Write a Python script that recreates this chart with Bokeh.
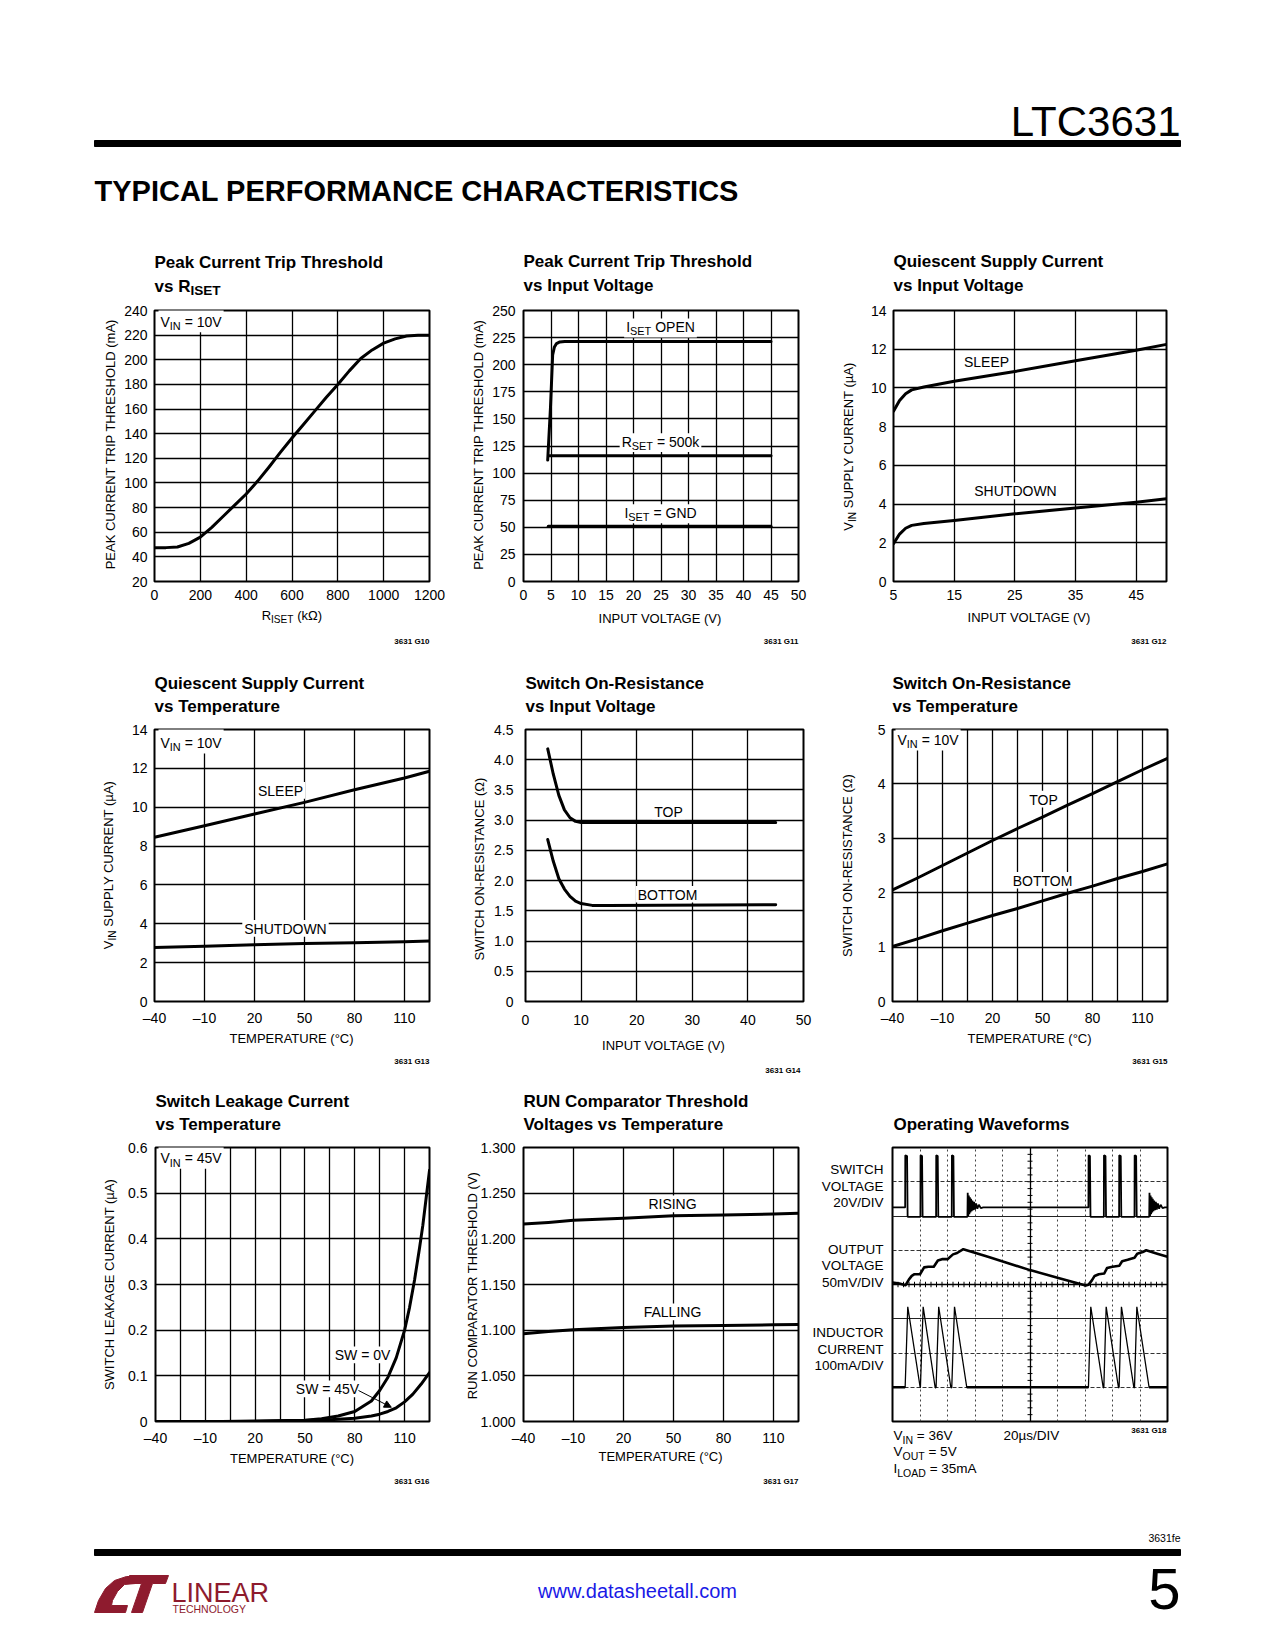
import numpy as np
from math import pi
from bokeh.plotting import figure
from bokeh.models import Range1d, Label, FixedTicker, Arrow, NormalHead, Grid, NumeralTickFormatter
from bokeh.layouts import column, row
from bokeh.embed import file_html
from bokeh.resources import INLINE

FONT = "Liberation Sans"
INK = "black"

# ======================= DATA =======================
# G10: Peak current trip threshold vs RISET (VIN = 10V)
g10_riset = [0, 50, 100, 150, 200, 250, 300, 350, 400, 450, 500, 550, 600, 650, 700,
             750, 800, 850, 900, 950, 1000, 1050, 1100, 1150, 1200]
g10_ipeak = [47.5, 47.5, 48, 51, 56, 64, 73, 82, 91, 101.5, 113, 125, 136.5, 147.5, 158.5,
             169.5, 180, 191, 201, 208, 213.5, 217, 219.3, 220, 220]
g10_xticks = [0, 200, 400, 600, 800, 1000, 1200]
g10_yticks = [20, 40, 60, 80, 100, 120, 140, 160, 180, 200, 220, 240]

# G11: Peak current trip threshold vs input voltage
g11_vin_open = [4.4, 4.9, 5.3, 5.6, 6.0, 6.6, 7.5, 45]
g11_ipk_open = [112, 160, 209, 216, 219.5, 221, 221.5, 221.5]
g11_vin_500k = [4.7, 45]
g11_ipk_500k = [116, 116]
g11_vin_gnd = [4.5, 45]
g11_ipk_gnd = [51, 51]
g11_xticks = [0, 5, 10, 15, 20, 25, 30, 35, 40, 45, 50]
g11_yticks = [0, 25, 50, 75, 100, 125, 150, 175, 200, 225, 250]

# G12: Quiescent supply current vs input voltage
g12_vin = [5, 6, 7, 8, 10, 15, 25, 35, 45, 50]
g12_sleep = [8.8, 9.35, 9.7, 9.9, 10.05, 10.35, 10.85, 11.4, 11.95, 12.25]
g12_shdn = [1.95, 2.45, 2.75, 2.9, 3.0, 3.15, 3.5, 3.8, 4.1, 4.28]
g12_xticks = [5, 15, 25, 35, 45]
g12_yticks = [0, 2, 4, 6, 8, 10, 12, 14]

# G13: Quiescent supply current vs temperature (VIN = 10V)
g13_temp = [-40, -10, 20, 50, 80, 110, 125]
g13_sleep = [8.45, 9.05, 9.65, 10.25, 10.9, 11.5, 11.85]
g13_shdn = [2.78, 2.85, 2.92, 2.98, 3.03, 3.08, 3.12]
g13_xticks = [-40, -10, 20, 50, 80, 110]
g13_yticks = [0, 2, 4, 6, 8, 10, 12, 14]

# G14: Switch on-resistance vs input voltage
g14_vin_top = [4, 5, 6, 7, 8, 9, 10, 45]
g14_r_top = [4.18, 3.76, 3.41, 3.17, 3.04, 2.98, 2.96, 2.96]
g14_vin_bot = [4, 5, 6, 7, 8, 9, 10, 12, 15, 45]
g14_r_bot = [2.68, 2.32, 2.03, 1.86, 1.74, 1.66, 1.62, 1.59, 1.59, 1.6]
g14_xticks = [0, 10, 20, 30, 40, 50]
g14_yticks = [0, 0.5, 1.0, 1.5, 2.0, 2.5, 3.0, 3.5, 4.0, 4.5]

# G15: Switch on-resistance vs temperature (VIN = 10V)
g15_temp = [-40, -25, -10, 5, 20, 35, 50, 65, 80, 95, 110, 125]
g15_r_top = [2.05, 2.27, 2.5, 2.73, 2.96, 3.18, 3.39, 3.61, 3.82, 4.04, 4.26, 4.47]
g15_r_bot = [1.01, 1.15, 1.3, 1.44, 1.58, 1.71, 1.85, 1.99, 2.12, 2.26, 2.39, 2.53]
g15_xticks = [-40, -10, 20, 50, 80, 110]
g15_xgrid = [-40, -25, -10, 5, 20, 35, 50, 65, 80, 95, 110, 125]
g15_yticks = [0, 1, 2, 3, 4, 5]

# G16: Switch leakage current vs temperature (VIN = 45V)
g16_temp_0v = [-40, 0, 20, 40, 50, 60, 70, 80, 90, 95, 100, 105, 110, 113, 116, 119, 121, 123, 125]
g16_lk_0v = [0, 0, 0.001, 0.002, 0.003, 0.006, 0.012, 0.022, 0.045, 0.068, 0.097, 0.14,
             0.2, 0.25, 0.31, 0.38, 0.43, 0.49, 0.55]
g16_temp_45v = [-40, 20, 50, 65, 80, 90, 95, 100, 105, 110, 115, 120, 125]
g16_lk_45v = [0, 0, 0.002, 0.004, 0.007, 0.012, 0.016, 0.022, 0.03, 0.043, 0.06, 0.082, 0.107]
g16_xticks = [-40, -10, 20, 50, 80, 110]
g16_xgrid = [-40, -25, -10, 5, 20, 35, 50, 65, 80, 95, 110, 125]
g16_yticks = [0, 0.1, 0.2, 0.3, 0.4, 0.5, 0.6]

# G17: RUN comparator threshold voltages vs temperature
g17_temp = [-40, -25, -10, 20, 50, 80, 110, 125]
g17_rising = [1.2163, 1.218, 1.2203, 1.2225, 1.2254, 1.2261, 1.2272, 1.2279]
g17_falling = [1.0961, 1.0985, 1.1005, 1.103, 1.1045, 1.1052, 1.1059, 1.1063]
g17_xticks = [-40, -10, 20, 50, 80, 110]
g17_yticks = [1.0, 1.05, 1.1, 1.15, 1.2, 1.25, 1.3]

# G18: Operating waveforms (time in us; switch in V; output ripple in mV; inductor in mA)
g18_switch = [(0, 5), (9.2, 5), (9.3, 35.5), (10.6, 35), (11.0, -0.5), (20.3, -0.5), (20.4, 35.5),
              (21.5, 35), (21.9, -0.5), (31.7, -0.5), (31.8, 35.5), (32.9, 35), (33.3, -0.5),
              (43.1, -0.5), (43.2, 35.5), (44.3, 35), (44.7, -0.5), (54.5, -0.5),
              (54.7, 13.5), (55.1, 0), (55.5, 12), (55.9, 1), (56.3, 11), (56.7, 2), (57.1, 10),
              (57.6, 2.8), (58.1, 9), (58.7, 3.4), (59.3, 8.2), (60.0, 3.8), (60.8, 7.4),
              (61.7, 4.2), (62.8, 6.6), (64.2, 4.6), (66.0, 5), (142.5, 5), (142.6, 35.5),
              (143.6, 35), (144.0, -0.5), (153.7, -0.5), (153.8, 35.5), (154.9, 35), (155.3, -0.5),
              (164.8, -0.5), (164.9, 35.5), (166.0, 35), (166.4, -0.5), (176.0, -0.5), (176.1, 35.5),
              (177.2, 35), (177.6, -0.5), (186.7, -0.5), (186.9, 13.5), (187.3, 0), (187.7, 12),
              (188.1, 1), (188.5, 11), (188.9, 2), (189.3, 10), (189.8, 2.8), (190.3, 9),
              (190.9, 3.4), (191.5, 8.2), (192.2, 3.8), (193.0, 7.4), (193.9, 4.2), (195.0, 6.6),
              (196.4, 4.6), (198.0, 5), (200, 5)]
g18_output = [(0, -22), (5, -23.5), (9.5, -26), (12, -17.5), (14, -12.5), (16, -10), (20, -10),
              (23, 0), (26, 1), (30, 1), (33, 10), (36, 12), (40, 12), (44, 19), (47, 21),
              (51.5, 26.5), (70, 15), (100, -4), (120, -15), (140.5, -26.5), (142.5, -25.5),
              (145, -19), (147, -12.5), (150, -10), (154, -9), (156, -1), (160, 1), (165, 2.5),
              (167, 9), (171, 11), (176, 14), (178, 20), (182, 22.5), (184.5, 25), (192.5, 20),
              (200, 15.5)]
g18_inductor = [(0, 0), (9.2, 0), (11.1, 235), (20.1, 0), (20.3, 0), (22.3, 235), (31.0, 0),
                (31.7, 0), (33.6, 235), (42.4, 0), (43.1, 0), (45.1, 235), (54.0, 0), (142.5, 0),
                (144.2, 235), (153.2, 0), (153.7, 0), (155.4, 235), (164.3, 0), (164.8, 0),
                (166.5, 235), (175.5, 0), (176.0, 0), (177.7, 235), (186.6, 0), (200, 0)]

# ======================= TEXT METRICS (Arial-compatible) =======================
_W = {' ': 278, '!': 278, '(': 333, ')': 333, '=': 584, '-': 333, '–': 556, '/': 278, '.': 278,
      ',': 278, '°': 400, 'µ': 576, 'Ω': 768,
      'A': 667, 'B': 667, 'C': 722, 'D': 722, 'E': 667, 'F': 611, 'G': 778, 'H': 722, 'I': 278,
      'J': 500, 'K': 667, 'L': 556, 'M': 833, 'N': 722, 'O': 778, 'P': 667, 'Q': 778, 'R': 722,
      'S': 667, 'T': 611, 'U': 722, 'V': 667, 'W': 944, 'X': 667, 'Y': 667, 'Z': 611,
      'a': 556, 'b': 556, 'c': 500, 'd': 556, 'e': 556, 'f': 278, 'g': 556, 'h': 556, 'i': 222,
      'j': 222, 'k': 500, 'l': 222, 'm': 833, 'n': 556, 'o': 556, 'p': 556, 'q': 556, 'r': 333,
      's': 500, 't': 278, 'u': 556, 'v': 500, 'w': 722, 'x': 500, 'y': 500, 'z': 500}
_WB = dict(_W)
_WB.update({'s': 556, 'v': 556, 'r': 389, 't': 333, 'i': 278, 'l': 278, 'u': 611, 'n': 611,
            'o': 611, 'p': 611, 'h': 611, 'c': 556, 'k': 556})


def tw(s, size, bold=False):
    tab = _WB if bold else _W
    return sum(tab.get(c, 556) for c in s) * size / 1000.0


TICK = "14px"
AXL = 13.0     # axis label size
TTL = 17.0     # chart title size
ANN = 14.0     # annotation size
TAG = 8.0      # figure tag size
BASE = 0.37    # rendered label anchor sits this many em above the alphabetic baseline


class Target:
    p = None

    def X(self, px):
        return px

    def Y(self, py):
        return py

    def bgbox(self, x0, x1, ytop, ybot):
        # white knock-out box behind an in-plot label (glyph level: above grid, below curves)
        self.p.quad(left=self.X(x0), right=self.X(x1), top=self.Y(ytop), bottom=self.Y(ybot),
                    fill_color="white", fill_alpha=1.0, line_color=None)

    def text(self, px, py, s, size=ANN, align="left", bold=False, bg=False, vertical=False,
             color=INK, pad_top=1.0):
        """(px, py) is the alphabetic baseline point in page pixels."""
        if bg:
            w = tw(s, size, bold)
            left = px if align == "left" else (px - w / 2 if align == "center" else px - w)
            self.bgbox(left - 2, left + w + 2, py - pad_top * size, py + 0.2 * size)
        if vertical:
            ax, ay, ang = px - BASE * size, py, pi / 2
        else:
            ax, ay, ang = px, py - BASE * size, 0.0
        self.p.add_layout(Label(x=self.X(ax), y=self.Y(ay), text=s, text_font=FONT,
                                text_font_size=f"{size:.1f}px",
                                text_font_style="bold" if bold else "normal",
                                text_align=align, text_baseline="alphabetic", text_color=color,
                                angle=ang))

    def rich(self, px, py, segs, size=ANN, align="left", bold=False, bg=False,
             sub_scale=0.78, sub_drop=0.22, color=INK, pad_top=1.0):
        parts = []
        for s, sub in segs:
            fs = size * sub_scale if sub else size
            parts.append((s, sub, fs, tw(s, fs, bold)))
        total = sum(w for _, _, _, w in parts)
        if align == "left":
            x = px
        elif align == "center":
            x = px - total / 2
        else:
            x = px - total
        if bg:
            self.bgbox(x - 2, x + total + 2, py - pad_top * size, py + sub_drop * size + 0.15 * size)
        for s, sub, fs, w in parts:
            lead = tw(s[:len(s) - len(s.lstrip(' '))], fs, bold)
            yy = py + (size * sub_drop if sub else 0)
            self.text(x + lead, yy, s.strip(' '), size=fs, bold=bold, color=color)
            x += w

    def vrich(self, cx, cy, segs, size=AXL, sub_scale=0.78, sub_drop=0.22):
        parts = []
        for s, sub in segs:
            fs = size * sub_scale if sub else size
            parts.append((s, sub, fs, tw(s, fs)))
        total = sum(w for _, _, _, w in parts)
        bx = cx + 0.358 * size          # baseline x so that capitals are centred on cx
        y = cy + total / 2
        for s, sub, fs, w in parts:
            lead = tw(s[:len(s) - len(s.lstrip(' '))], fs)
            xx = bx + (size * sub_drop if sub else 0)
            self.text(xx, y - lead, s.strip(' '), size=fs, vertical=True)
            y -= w


# ---------------- full-page canvas (decorations + texts outside the plot frames) -------------
class Page(Target):
    def __init__(self):
        p = figure(width=1275, height=1650, x_range=Range1d(0, 1275), y_range=Range1d(1650, 0),
                   x_axis_location=None, y_axis_location=None, min_border=0,
                   toolbar_location=None, output_backend="svg")
        p.outline_line_color = None
        p.grid.visible = False
        p.background_fill_color = "white"
        p.border_fill_color = "white"
        self.p = p

    def block(self, frame, l1, l2, ylab, xlab, ylab_x, xlab_base, tag, tag_base, tag_right=None,
              b1=None, b2=None):
        fl, ft, fr, fb = frame
        if l1:
            self.text(fl, b1, l1, size=TTL, bold=True)
        if isinstance(l2, list):
            self.rich(fl, b2, l2, size=TTL, bold=True, sub_scale=0.8, sub_drop=0.18)
        elif l2:
            self.text(fl, b2, l2, size=TTL, bold=True)
        if ylab:
            segs = ylab if isinstance(ylab, list) else [(ylab, 0)]
            self.vrich(ylab_x, (ft + fb) / 2, segs)
        if xlab:
            segs = xlab if isinstance(xlab, list) else [(xlab, 0)]
            self.rich((fl + fr) / 2, xlab_base, segs, size=AXL, align="center")
        self.text(tag_right if tag_right else fr, tag_base, tag, size=TAG, align="right", bold=True)


COLS = [(0, 465), (465, 812), (812, 1275)]
ROWS = [(236, 650), (650, 1076), (1076, 1495)]


class Chart(Target):
    def __init__(self, col, rw, frame, xr, yr, axes=True):
        cl, cr = COLS[col]
        rt, rb = ROWS[rw]
        self.frame = frame
        self.fl, self.ft, self.fr, self.fb = frame
        self.xr, self.yr = xr, yr
        self._curves = []
        kw = {}
        if not axes:
            kw = dict(x_axis_location=None, y_axis_location=None)
        p = figure(width=cr - cl, height=rb - rt, x_range=Range1d(*xr), y_range=Range1d(*yr),
                   min_border_left=self.fl - cl, min_border_right=cr - self.fr,
                   min_border_top=self.ft - rt, min_border_bottom=rb - self.fb,
                   toolbar_location=None, output_backend="svg", **kw)
        p.outline_line_color = INK
        p.outline_line_width = 2
        p.outline_line_alpha = 1
        p.background_fill_color = "white"
        p.border_fill_color = None
        p.border_fill_alpha = 0
        if axes:
            for ax in p.axis:
                ax.axis_line_color = None
                ax.major_tick_line_color = None
                ax.minor_tick_line_color = None
                ax.major_tick_in = 0
                ax.major_tick_out = 0
                ax.minor_tick_in = 0
                ax.minor_tick_out = 0
                ax.major_label_text_font = FONT
                ax.major_label_text_font_size = TICK
                ax.major_label_text_color = INK
            p.grid.grid_line_color = INK
            p.grid.grid_line_width = 1.3
        else:
            p.grid.visible = False
        self.p = p

    def X(self, px):
        x0, x1 = self.xr
        return x0 + (px - self.fl) / (self.fr - self.fl) * (x1 - x0)

    def Y(self, py):
        y0, y1 = self.yr
        return y0 + (self.fb - py) / (self.fb - self.ft) * (y1 - y0)

    def ticks(self, xt, yt, xs=8, ys=7, xgrid=None, ygrid=None):
        self.p.xaxis.ticker = FixedTicker(ticks=xt)
        self.p.yaxis.ticker = FixedTicker(ticks=yt)
        self.p.xgrid.ticker = FixedTicker(ticks=xgrid if xgrid is not None else xt)
        self.p.ygrid.ticker = FixedTicker(ticks=ygrid if ygrid is not None else yt)
        self.p.xaxis.major_label_standoff = xs
        self.p.yaxis.major_label_standoff = ys

    def curve(self, x, y):
        self._curves.append((x, y))

    def finish(self):
        # curves are drawn last so the label knock-out boxes never hide them
        for x, y in self._curves:
            self.p.line(x, y, line_color=INK, line_width=3, line_join="round", line_cap="round")


DASH = "–"
VIN = [("V", 0), ("IN", 1)]
pg = Page()

# ---------- G10 ----------
c1 = Chart(0, 0, (154, 306, 429, 581), (0, 1200), (20, 240))
c1.ticks(g10_xticks, g10_yticks, xs=8, ys=7)
c1.curve(g10_riset, g10_ipeak)
c1.rich(160, 323, VIN + [(" = 10V", 0)], bg=True, pad_top=1.5)
pg.block(c1.frame, "Peak Current Trip Threshold", [("vs R", 0), ("ISET", 1)],
         "PEAK CURRENT TRIP THRESHOLD (mA)", [("R", 0), ("ISET", 1), (" (kΩ)", 0)],
         110, 620, "3631 G10", 644, b1=268, b2=292)

# ---------- G11 ----------
c2 = Chart(1, 0, (523, 307, 798, 581), (0, 50), (0, 250))
c2.ticks(g11_xticks, g11_yticks, xs=8, ys=8)
c2.curve(g11_vin_open, g11_ipk_open)
c2.curve(g11_vin_500k, g11_ipk_500k)
c2.curve(g11_vin_gnd, g11_ipk_gnd)
c2.rich(660, 329, [("I", 0), ("SET", 1), (" OPEN", 0)], align="center", bg=True)
c2.rich(660, 445, [("R", 0), ("SET", 1), (" = 500k", 0)], align="center", bg=True)
c2.rich(660, 517, [("I", 0), ("SET", 1), (" = GND", 0)], align="center", bg=True)
pg.block(c2.frame, "Peak Current Trip Threshold", "vs Input Voltage",
         "PEAK CURRENT TRIP THRESHOLD (mA)", "INPUT VOLTAGE (V)",
         478, 623, "3631 G11", 644, b1=267, b2=291)

# ---------- G12 ----------
c3 = Chart(2, 0, (893, 310, 1166, 581), (5, 50), (0, 14))
c3.ticks(g12_xticks, g12_yticks, xs=8, ys=7)
c3.curve(g12_vin, g12_sleep)
c3.curve(g12_vin, g12_shdn)
c3.text(986, 367, "SLEEP", align="center", bg=True)
c3.text(1015, 496, "SHUTDOWN", align="center", bg=True)
pg.block(c3.frame, "Quiescent Supply Current", "vs Input Voltage",
         VIN + [(" SUPPLY CURRENT (µA)", 0)], "INPUT VOLTAGE (V)",
         848, 622, "3631 G12", 644, b1=267, b2=291)

# ---------- G13 ----------
c4 = Chart(0, 1, (154, 727, 429, 1001), (-40, 125), (0, 14))
c4.ticks(g13_xticks, g13_yticks, xs=8, ys=7)
c4.p.xaxis.major_label_overrides = {-40: DASH + "40", -10: DASH + "10"}
c4.curve(g13_temp, g13_sleep)
c4.curve(g13_temp, g13_shdn)
c4.rich(160, 746, VIN + [(" = 10V", 0)], bg=True, pad_top=1.5)
c4.text(280, 794, "SLEEP", align="center", bg=True)
c4.text(285, 933, "SHUTDOWN", align="center", bg=True)
pg.block(c4.frame, "Quiescent Supply Current", "vs Temperature",
         VIN + [(" SUPPLY CURRENT (µA)", 0)], "TEMPERATURE (°C)",
         108, 1043, "3631 G13", 1064, b1=689, b2=712)

# ---------- G14 ----------
c5 = Chart(1, 1, (525, 729, 803, 1007), (0, 50), (0, 4.5))
c5.ticks(g14_xticks, g14_yticks, xs=13, ys=12)
c5.p.yaxis.formatter = NumeralTickFormatter(format="0.0")
c5.p.yaxis.major_label_overrides = {0: "0"}
c5.curve(g14_vin_top, g14_r_top)
c5.curve(g14_vin_bot, g14_r_bot)
c5.text(668, 818, "TOP", align="center", bg=True)
c5.text(667, 903, "BOTTOM", align="center", bg=True)
pg.block(c5.frame, "Switch On-Resistance", "vs Input Voltage",
         "SWITCH ON-RESISTANCE (Ω)", "INPUT VOLTAGE (V)",
         479, 1050, "3631 G14", 1073, tag_right=800, b1=689, b2=712)

# ---------- G15 ----------
c6 = Chart(2, 1, (892, 727, 1167, 1002), (-40, 125), (0, 5))
c6.ticks(g15_xticks, g15_yticks, xs=8, ys=7, xgrid=g15_xgrid)
c6.p.xaxis.major_label_overrides = {-40: DASH + "40", -10: DASH + "10"}
c6.curve(g15_temp, g15_r_top)
c6.curve(g15_temp, g15_r_bot)
c6.rich(897, 743, VIN + [(" = 10V", 0)], bg=True, pad_top=1.5)
c6.text(1043, 803, "TOP", align="center", bg=True)
c6.text(1042, 885, "BOTTOM", align="center", bg=True)
pg.block(c6.frame, "Switch On-Resistance", "vs Temperature",
         "SWITCH ON-RESISTANCE (Ω)", "TEMPERATURE (°C)",
         847, 1043, "3631 G15", 1064, b1=689, b2=712)

# ---------- G16 ----------
c7 = Chart(0, 2, (155, 1147, 429, 1421), (-40, 125), (0, 0.6))
c7.ticks(g16_xticks, g16_yticks, xs=8, ys=8, xgrid=g16_xgrid)
c7.p.xaxis.major_label_overrides = {-40: DASH + "40", -10: DASH + "10"}
c7.p.yaxis.formatter = NumeralTickFormatter(format="0.0")
c7.p.yaxis.major_label_overrides = {0: "0"}
c7.curve(g16_temp_0v, g16_lk_0v)
c7.curve(g16_temp_45v, g16_lk_45v)
c7.rich(160, 1163, VIN + [(" = 45V", 0)], bg=True, pad_top=1.5)
c7.text(362, 1360, "SW = 0V", align="center", bg=True)
c7.text(327, 1394, "SW = 45V", align="center", bg=True)
arrow_t = 102.0
c7.p.add_layout(Arrow(end=NormalHead(size=7, fill_color=INK, line_color=INK, line_width=1),
                      x_start=c7.X(358), y_start=c7.Y(1390),
                      x_end=arrow_t, y_end=float(np.interp(arrow_t, g16_temp_45v, g16_lk_45v)) + 0.006,
                      line_color=INK, line_width=1))
pg.block(c7.frame, "Switch Leakage Current", "vs Temperature",
         "SWITCH LEAKAGE CURRENT (µA)", "TEMPERATURE (°C)",
         109, 1463, "3631 G16", 1484, b1=1107, b2=1130)

# ---------- G17 ----------
c8 = Chart(1, 2, (523, 1147, 798, 1421), (-40, 125), (1.0, 1.3))
c8.ticks(g17_xticks, g17_yticks, xs=8, ys=8)
c8.p.xaxis.major_label_overrides = {-40: DASH + "40", -10: DASH + "10"}
c8.p.yaxis.formatter = NumeralTickFormatter(format="0.000")
c8.curve(g17_temp, g17_rising)
c8.curve(g17_temp, g17_falling)
c8.text(672, 1209, "RISING", align="center", bg=True)
c8.text(672, 1317, "FALLING", align="center", bg=True)
pg.block(c8.frame, "RUN Comparator Threshold", "Voltages vs Temperature",
         "RUN COMPARATOR THRESHOLD (V)", "TEMPERATURE (°C)",
         472, 1461, "3631 G17", 1484, b1=1107, b2=1130)

for c in (c1, c2, c3, c4, c5, c6, c7, c8):
    c.finish()

# ---------- G18 (scope) ----------
c9 = Chart(2, 2, (892, 1147, 1167, 1421), (0, 200), (0, 8), axes=False)
p9 = c9.p
p9.extra_y_ranges = {"sw": Range1d(-120, 40), "out": Range1d(-225, 175), "il": Range1d(-100, 700)}
dash_v = [20, 40, 60, 80, 120, 140, 160, 180]
p9.add_layout(Grid(dimension=0, ticker=FixedTicker(ticks=dash_v), grid_line_color="#444",
                   grid_line_dash="2 3", grid_line_width=1))
p9.add_layout(Grid(dimension=1, ticker=FixedTicker(ticks=[1, 2, 5, 7]), grid_line_color="#333",
                   grid_line_dash="4 2", grid_line_width=1))
p9.add_layout(Grid(dimension=1, ticker=FixedTicker(ticks=[3, 6]), grid_line_color="#222",
                   grid_line_width=1))
p9.add_layout(Grid(dimension=0, ticker=FixedTicker(ticks=[100]), grid_line_color=INK,
                   grid_line_width=1.3))
p9.add_layout(Grid(dimension=1, ticker=FixedTicker(ticks=[4]), grid_line_color=INK,
                   grid_line_width=1.3))
# graticule minor ticks on the centre cross
hx = np.arange(0, 200.1, 4.0)
p9.segment(hx, 3.92, hx, 4.08, line_color=INK, line_width=1)
vy = np.arange(0, 8.01, 0.2)
p9.segment(98.2, vy, 101.8, vy, line_color=INK, line_width=1)

sw_t, sw_v = zip(*g18_switch)
out_t, out_v = zip(*g18_output)
il_t, il_v = zip(*g18_inductor)
p9.line(list(sw_t), list(sw_v), y_range_name="sw", line_color=INK, line_width=1.8)
p9.line(list(out_t), list(out_v), y_range_name="out", line_color=INK, line_width=2.6,
        line_join="round")
p9.line(list(il_t), list(il_v), y_range_name="il", line_color=INK, line_width=1.3)
flat_x0, flat_x1, flat_y = [], [], []
for i in range(len(il_t) - 1):
    if il_v[i] == 0 and il_v[i + 1] == 0:
        flat_x0.append(il_t[i]); flat_x1.append(il_t[i + 1]); flat_y.append(0)
p9.segment(flat_x0, flat_y, flat_x1, flat_y, y_range_name="il", line_color=INK, line_width=2.6)

pg.text(893, 1130, "Operating Waveforms", size=TTL, bold=True)
for s, b in [("SWITCH", 1174), ("VOLTAGE", 1191), ("20V/DIV", 1207),
             ("OUTPUT", 1254), ("VOLTAGE", 1270), ("50mV/DIV", 1287),
             ("INDUCTOR", 1337), ("CURRENT", 1354), ("100mA/DIV", 1370)]:
    pg.text(883, b, s, size=13.5, align="right")
pg.rich(893, 1440, VIN + [(" = 36V", 0)], size=13.5)
pg.rich(893, 1456, [("V", 0), ("OUT", 1), (" = 5V", 0)], size=13.5)
pg.rich(893, 1473, [("I", 0), ("LOAD", 1), (" = 35mA", 0)], size=13.5)
pg.text(1003, 1440, "20µs/DIV", size=13.5)
pg.text(1166, 1433, "3631 G18", size=TAG, align="right", bold=True)

# ======================= HEADER / FOOTER =======================
P = pg.p
P.quad(left=94, right=1180, top=140, bottom=146, color=INK)
pg.text(1180, 137, "LTC3631", size=42, align="right")
pg.text(94, 201, "TYPICAL PERFORMANCE CHARACTERISTICS", size=29, bold=True)

P.quad(left=94, right=1180, top=1549, bottom=1555, color=INK)
pg.text(1180, 1541, "3631fe", size=10.5, align="right")
RED = "#8E1B2E"
P.patch([94, 98, 105, 114, 126, 137, 135, 124, 117, 112, 111, 127, 125, 94],
        [1612, 1600, 1588, 1580, 1576, 1576, 1583, 1584, 1591, 1600, 1605, 1605, 1612, 1612],
        color=RED)
P.patch([129, 168, 165, 152, 142, 131, 141, 127],
        [1575, 1575, 1583, 1583, 1612, 1612, 1583, 1583], color=RED)
pg.text(171, 1602, "LINEAR", size=27, color=RED)
pg.text(172, 1612, "TECHNOLOGY", size=10.5, color=RED)
pg.text(637, 1598, "www.datasheetall.com", size=20, align="center", color="#1a1ae6")
pg.text(1180, 1610, "5", size=58, align="right")

charts = column(
    row(c1.p, c2.p, c3.p),
    row(c4.p, c5.p, c6.p),
    row(c7.p, c8.p, c9.p),
    margin=(236 - 1650, 0, 0, 0),
)
layout = column(P, charts)

open("out.html", "w").write(file_html(layout, INLINE))
